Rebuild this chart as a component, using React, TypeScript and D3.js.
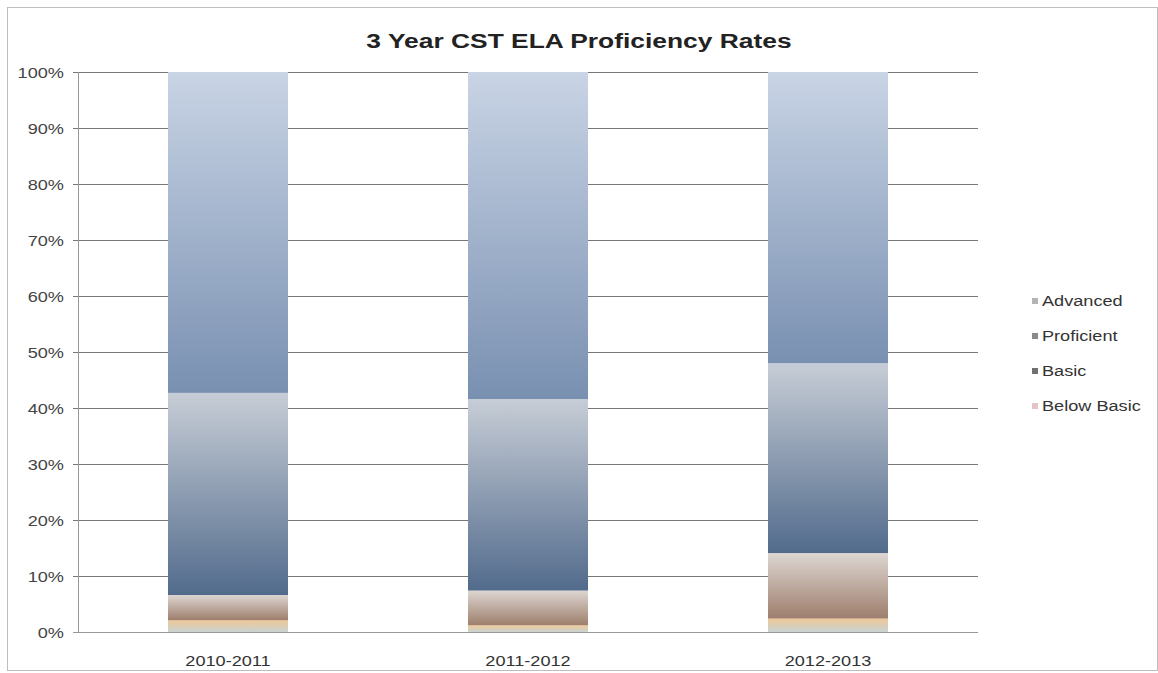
import React from "react";
import * as d3 from "d3";

const categories = ["2010-2011", "2011-2012", "2012-2013"];
const seriesNames = ["Below Basic", "Basic", "Proficient", "Advanced"];
const belowBasic = [2.1, 1.2, 2.4];
const basic = [4.5, 6.2, 11.7];
const proficient = [36.1, 34.2, 33.9];
const advanced = [57.3, 58.4, 52.0];
const yTicks = [0, 10, 20, 30, 40, 50, 60, 70, 80, 90, 100];
const legendOrder = ["Advanced", "Proficient", "Basic", "Below Basic"];

const gradients: Record<string, [string, string]> = {
  "Below Basic": ["#eec896", "#c9d3d2"],
  Basic: ["#ddd6d2", "#9e7e6c"],
  Proficient: ["#c7cdd6", "#526b8c"],
  Advanced: ["#c9d4e5", "#7990b1"],
};
const legendColors: Record<string, string> = {
  Advanced: "#b4b4b4",
  Proficient: "#8a8a8a",
  Basic: "#707070",
  "Below Basic": "#e4c4c4",
};

const SX = 1.17;

export default function App() {
  const W = 1158, H = 673;
  const left = 78, right = 978, top = 72, bottom = 632;
  const x = d3.scaleBand().domain(categories).range([left, right]).paddingInner(0.6).paddingOuter(0.3);
  const y = d3.scaleLinear().domain([0, 100]).range([bottom, top]);
  const rows = categories.map((c, i) => ({
    cat: c,
    "Below Basic": belowBasic[i],
    Basic: basic[i],
    Proficient: proficient[i],
    Advanced: advanced[i],
  }));
  const stack = d3.stack<any>().keys(seriesNames)(rows);
  const font = "Arial, 'Liberation Sans', sans-serif";
  const fs = 15.5;
  return (
    <svg width={W} height={H} style={{ position: "absolute", left: 0, top: 0 }}>
      <defs>
        {seriesNames.map((s) => (
          <linearGradient key={s} id={"g" + s.replace(" ", "")} x1="0" y1="0" x2="0" y2="1">
            <stop offset="0" stopColor={gradients[s][0]} />
            <stop offset="1" stopColor={gradients[s][1]} />
          </linearGradient>
        ))}
      </defs>
      <rect x={0} y={0} width={W} height={H} fill="#fff" />
      <rect x={7.5} y={7.5} width={1150} height={663} fill="none" stroke="#bdbdbd" />
      <text
        transform={`translate(579, 48) scale(1.32, 1)`}
        textAnchor="middle"
        fontFamily={font}
        fontWeight="bold"
        fontSize={20}
        fill="#222"
      >
        3 Year CST ELA Proficiency Rates
      </text>
      {yTicks.map((t) => (
        <g key={t}>
          <line x1={left - 5} x2={right} y1={y(t) + 0.5} y2={y(t) + 0.5} stroke={t === 0 ? "#999" : "#777"} />
          <text
            transform={`translate(64, ${y(t) + 5.5}) scale(${SX}, 1)`}
            textAnchor="end"
            fontFamily={font}
            fontSize={fs}
            fill="#444"
          >
            {t}%
          </text>
        </g>
      ))}
      <line x1={left + 0.5} x2={left + 0.5} y1={top} y2={bottom} stroke="#999" />
      {stack.map((layer) =>
        layer.map((d, i) => (
          <rect
            key={layer.key + i}
            x={x(categories[i])}
            width={x.bandwidth()}
            y={y(d[1])}
            height={y(d[0]) - y(d[1])}
            fill={`url(#g${layer.key.replace(" ", "")})`}
          />
        ))
      )}
      {categories.map((c) => (
        <text
          key={c}
          transform={`translate(${(x(c) as number) + x.bandwidth() / 2}, 666) scale(${SX}, 1)`}
          textAnchor="middle"
          fontFamily={font}
          fontSize={fs}
          fill="#333"
        >
          {c}
        </text>
      ))}
      {legendOrder.map((s, i) => (
        <g key={s} transform={`translate(1032, ${306 + i * 35})`}>
          <rect x={0} y={-8} width={6} height={6} fill={legendColors[s]} />
          <text transform={`translate(10, 0) scale(${SX}, 1)`} fontFamily={font} fontSize={fs} fill="#333">
            {s}
          </text>
        </g>
      ))}
    </svg>
  );
}
